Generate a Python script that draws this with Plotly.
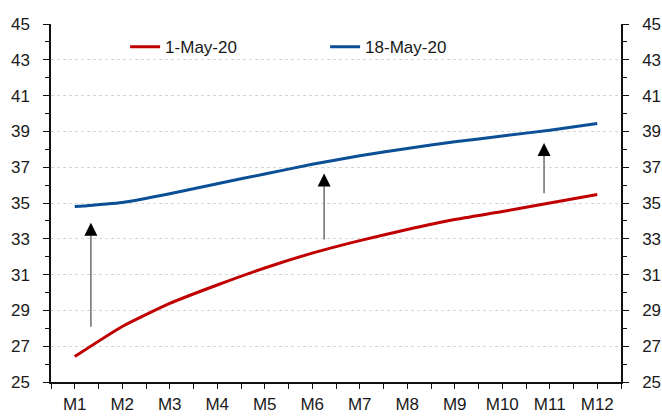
import plotly.graph_objects as go

# Monthly categories and the two curves
months = ["M1", "M2", "M3", "M4", "M5", "M6", "M7", "M8", "M9", "M10", "M11", "M12"]
may01 = [26.42, 28.1, 29.39, 30.42, 31.37, 32.2, 32.9, 33.52, 34.08, 34.52, 35.0, 35.48]
may18 = [34.8, 35.03, 35.52, 36.08, 36.62, 37.16, 37.64, 38.05, 38.42, 38.74, 39.07, 39.44]

# Shift arrows: (x position in month units, tail value, tip value)
arrow_x = [1.34, 6.25, 10.88]
arrow_tail = [28.08, 32.96, 35.55]
arrow_tip = [33.9, 36.65, 38.35]

y_min, y_max = 25, 45
xpos = list(range(1, len(months) + 1))

fig = go.Figure()
fig.add_trace(go.Scatter(x=xpos, y=may01, name="1-May-20", mode="lines",
                         line=dict(color="#C00000", width=3, shape="spline", smoothing=0.5)))
fig.add_trace(go.Scatter(x=xpos, y=may18, name="18-May-20", mode="lines",
                         line=dict(color="#0B4F96", width=3, shape="spline", smoothing=0.5)))
# invisible trace so the right-hand axis is drawn
fig.add_trace(go.Scatter(x=[xpos[0]], y=[y_min], yaxis="y2", mode="markers",
                         marker=dict(opacity=0), showlegend=False, hoverinfo="skip"))

for xa, t0, t1 in zip(arrow_x, arrow_tail, arrow_tip):
    # grey shaft
    fig.add_shape(type="line", xref="x", yref="y", x0=xa, x1=xa, y0=t0, y1=t1 - 0.3,
                  line=dict(color="#6e6e6e", width=1.5))
    # black head
    fig.add_annotation(x=xa, y=t1, ax=0, ay=12, xref="x", yref="y",
                       text="", showarrow=True, arrowhead=2, arrowsize=2.6, arrowwidth=1,
                       arrowcolor="#000000", standoff=0)

font = dict(family="Liberation Sans, Arial, sans-serif", size=17, color="#1a1a1a")
yaxis_common = dict(range=[y_min, y_max], tick0=25, dtick=2, ticks="outside", ticklen=6,
                    tickwidth=1.3, tickcolor="#111", showline=True, linecolor="#111",
                    linewidth=1.5, zeroline=False, ticklabelstandoff=10, tickfont=font,
                    automargin=False,
                    minor=dict(dtick=1, tick0=25, ticks="outside", ticklen=4,
                               tickcolor="#111", tickwidth=1.3, showgrid=False))

fig.update_layout(
    width=662, height=416,
    margin=dict(l=51, r=41, t=24, b=34),
    paper_bgcolor="white", plot_bgcolor="white",
    font=font,
    showlegend=True,
    legend=dict(orientation="h", x=0.13, y=0.935, xanchor="left", yanchor="middle",
                bgcolor="rgba(0,0,0,0)", entrywidth=155, entrywidthmode="pixels",
                font=font),
    xaxis=dict(range=[0.5, 12.5], tickvals=xpos, ticktext=months, ticks="outside",
               ticklen=5, tickwidth=1.3, tickcolor="#111", showline=True, linecolor="#111",
               linewidth=1.5, showgrid=False, zeroline=False, tickfont=font,
               ticklabelstandoff=1, automargin=False,
               minor=dict(dtick=0.5, tick0=0.5, ticks="outside", ticklen=5,
                          tickcolor="#111", tickwidth=1.3, showgrid=False)),
    yaxis=dict(**yaxis_common, side="left", showgrid=True, gridcolor="#d6d6d6",
               griddash="dot", gridwidth=1),
    yaxis2=dict(**yaxis_common, side="right", overlaying="y", showgrid=False),
)

fig.write_html("out.html")
